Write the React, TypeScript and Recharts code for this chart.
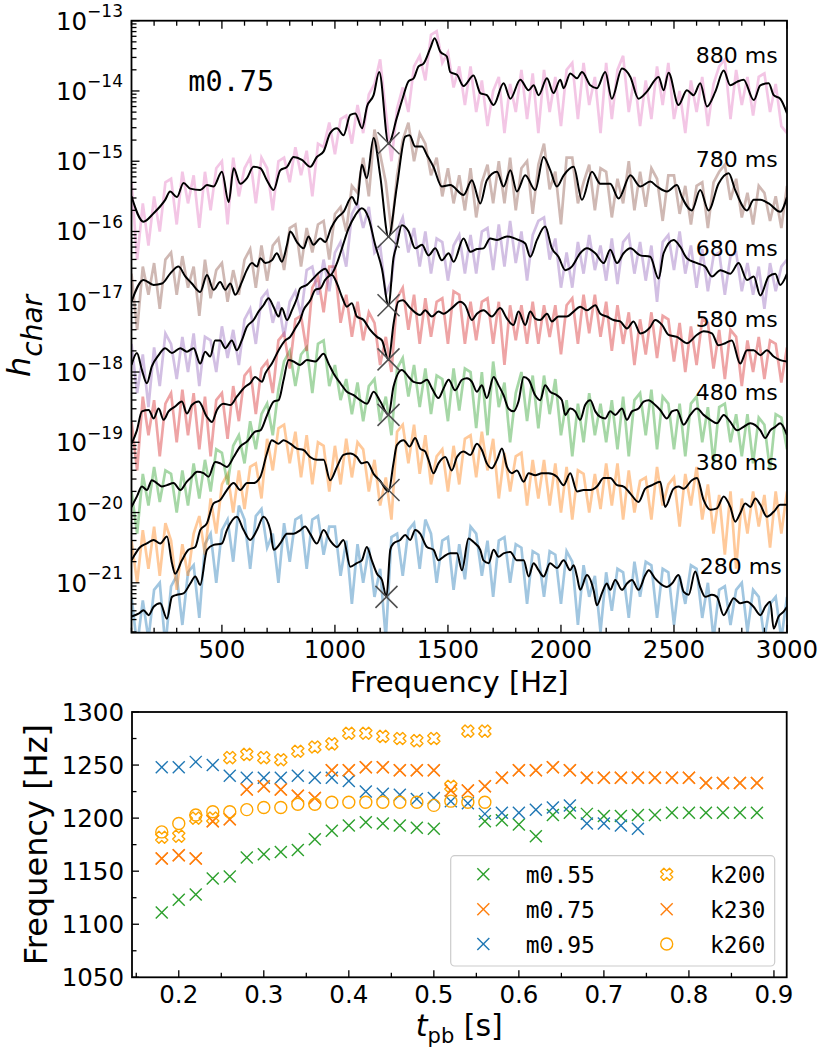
import React from 'react';
import { ComposedChart, Line, Scatter, XAxis, YAxis } from 'recharts';

// ---------------- TOP PANEL DATA (log10 of h_char) ----------------
const GRID = [
  100, 125, 150, 175, 200, 225, 250, 275, 300, 325, 350, 375,
  400, 425, 450, 475, 500, 525, 550, 575, 600, 625, 650, 675,
  700, 725, 750, 775, 800, 825, 850, 875, 900, 925, 950, 975,
  1000, 1025, 1050, 1075, 1100, 1125, 1150, 1175, 1200, 1225, 1250, 1275,
  1300, 1325, 1350, 1375, 1400, 1425, 1450, 1475, 1500, 1525, 1550, 1575,
  1600, 1625, 1650, 1675, 1700, 1725, 1750, 1775, 1800, 1825, 1850, 1875,
  1900, 1925, 1950, 1975, 2000, 2025, 2050, 2075, 2100, 2125, 2150, 2175,
  2200, 2225, 2250, 2275, 2300, 2325, 2350, 2375, 2400, 2425, 2450, 2475,
  2500, 2525, 2550, 2575, 2600, 2625, 2650, 2675, 2700, 2725, 2750, 2775,
  2800, 2825, 2850, 2875, 2900, 2925, 2950, 2975,
  3000,
];

const RAW_880 = [
  -15.3, -16.4, -15.6, -16.2, -15.5, -16.0, -15.3, -15.25, -15.9, -15.15, -15.6, -15.2,
  -15.95, -15.15, -15.7, -15.1, -15.0, -15.9, -14.95, -15.5, -15.1, -14.95, -15.6, -14.95,
  -15.1, -15.7, -15.0, -14.95, -15.3, -14.8, -15.2, -14.85, -15.5, -14.75, -14.8, -14.45,
  -14.9, -14.4, -14.35, -14.75, -14.2, -14.6, -14.05, -13.9, -13.55, -14.3, -15.0, -14.25,
  -13.95, -14.3, -13.65, -13.5, -13.85, -13.2, -13.15, -13.6, -13.45, -13.95, -13.65, -14.2,
  -13.65, -14.3, -13.85, -14.5, -14.0, -13.8, -14.6, -13.9, -14.3, -13.7, -14.4, -13.75,
  -14.6, -13.7, -14.3, -13.8, -14.5, -13.7, -13.6, -14.4, -13.6, -14.2, -13.8, -14.6,
  -13.6, -14.4, -13.7, -13.5, -14.3, -13.8, -14.5, -13.85, -14.4, -13.65, -14.2, -13.6,
  -14.4, -14.0, -14.6, -13.85, -14.3, -13.8, -14.5, -13.9, -13.65, -13.55, -14.4, -13.7,
  -14.2, -13.8, -14.35, -13.8, -13.75, -14.3, -13.9, -14.5,
  -14.6,
];
const RAW_780 = [
  -16.6, -17.4, -16.5, -16.9, -16.45, -17.1, -16.4, -16.3, -16.9, -16.35, -16.8, -16.5,
  -17.2, -16.4, -16.95, -16.55, -16.45, -17.0, -16.55, -16.9, -16.4, -16.25, -16.8, -16.2,
  -16.7, -16.2, -16.1, -16.55, -15.95, -15.9, -16.5, -15.95, -16.3, -15.9, -15.85, -16.4,
  -15.75, -15.65, -16.0, -15.35, -15.45, -14.95, -15.5, -14.55, -14.9, -15.3, -16.0, -15.2,
  -14.7, -14.45, -15.0, -14.6, -14.75, -15.2, -14.95, -15.5, -15.1, -15.6, -15.2, -15.7,
  -15.1, -15.8, -15.3, -15.05, -15.6, -15.0, -15.6, -14.95, -15.7, -15.1, -15.0, -15.75,
  -15.05, -14.75, -15.4, -15.15, -15.9, -14.95, -14.95, -15.6, -15.3, -15.05, -15.7, -15.1,
  -15.15, -15.8, -15.25, -15.6, -15.0, -15.7, -15.15, -15.65, -15.1, -15.25, -15.85, -15.2,
  -15.2, -15.75, -15.35, -15.9, -15.35, -15.3, -15.95, -15.3, -15.15, -15.05, -15.55, -15.25,
  -15.8, -15.45, -15.9, -15.35, -15.45, -15.85, -15.5, -15.95,
  -15.35,
];
const RAW_680 = [
  -17.6, -18.3, -17.75, -18.5, -17.65, -18.2, -17.45, -17.6, -18.1, -17.5, -18.0, -17.45,
  -18.2, -17.5, -17.55, -18.0, -17.35, -17.8, -17.4, -17.9, -17.25, -17.1, -17.6, -16.95,
  -16.85, -17.3, -17.0, -17.5, -17.0, -16.85, -17.2, -16.55, -16.5, -16.9, -16.4, -16.85,
  -16.3, -16.15, -16.5, -15.75, -15.6, -15.95, -15.65, -16.3, -16.2, -16.9, -16.7, -16.0,
  -15.8, -16.3, -15.95, -16.5, -16.0, -16.6, -16.1, -16.15, -16.7, -16.2, -16.05, -16.6,
  -16.05, -16.6, -16.0, -15.95, -16.55, -15.9, -16.5, -15.85, -16.45, -16.0, -16.7, -16.05,
  -15.85, -15.8, -16.4, -16.1, -16.8, -16.3, -16.8, -16.15, -16.6, -16.05, -16.55, -16.2,
  -16.7, -16.1, -16.75, -16.15, -16.05, -16.6, -16.15, -16.7, -16.2, -17.0, -16.15, -16.05,
  -16.55, -16.0, -16.6, -16.2, -16.8, -16.25, -16.85, -16.35, -16.3, -16.9, -16.35, -16.3,
  -16.85, -16.45, -16.9, -16.5, -17.1, -16.45, -16.85, -16.5,
  -16.4,
];
const RAW_580 = [
  -18.7, -19.4, -18.35, -18.9, -18.4, -19.2, -18.45, -18.3, -19.0, -18.25, -18.9, -18.3,
  -19.1, -18.35, -19.2, -18.4, -18.3, -18.95, -18.2, -18.7, -18.05, -17.95, -18.6, -17.95,
  -17.85, -18.3, -17.55, -17.45, -17.95, -17.25, -17.2, -17.7, -16.8, -16.65, -17.15, -16.5,
  -16.5, -17.3, -16.9, -17.5, -17.0, -17.55, -17.15, -17.3, -17.9, -17.5, -18.0, -16.95,
  -16.8, -17.4, -16.9, -17.6, -16.95, -17.5, -17.0, -16.95, -17.6, -16.85, -16.9, -17.6,
  -17.0, -17.55, -17.0, -16.95, -17.6, -17.0, -17.9, -17.05, -17.55, -17.05, -17.6, -17.0,
  -17.6, -17.05, -17.5, -17.05, -17.75, -17.05, -16.95, -17.6, -16.9, -17.45, -16.9, -17.5,
  -17.0, -17.7, -17.05, -17.6, -17.15, -17.9, -17.25, -17.75, -17.15, -17.8, -17.2, -17.25,
  -17.85, -17.3, -18.0, -17.35, -17.9, -17.25, -17.3, -17.95, -17.4, -18.1, -17.4, -17.5,
  -18.2, -17.55, -18.0, -17.5, -18.1, -17.55, -17.6, -18.15,
  -17.65,
];
const RAW_480 = [
  -19.7, -20.3, -19.45, -19.9, -19.35, -19.85, -19.4, -19.45, -20.0, -19.4, -19.9, -19.3,
  -19.8, -19.25, -19.7, -19.1, -19.15, -19.6, -19.05, -18.9, -19.3, -18.7, -19.1, -18.6,
  -18.45, -18.9, -18.25, -17.85, -17.7, -18.2, -17.75, -17.65, -18.3, -17.6, -17.55, -18.2,
  -17.9, -18.4, -18.1, -18.6, -18.15, -18.7, -18.2, -18.1, -18.7, -18.35, -18.9, -17.95,
  -17.8, -18.35, -17.9, -18.5, -17.95, -18.6, -18.05, -18.1, -18.7, -17.95, -18.55, -17.95,
  -18.0, -18.8, -18.0, -18.9, -17.85, -18.5, -18.15, -19.0, -18.3, -18.0, -18.7, -18.05,
  -18.8, -18.05, -18.6, -18.1, -18.9, -18.4, -19.2, -18.45, -19.0, -18.3, -18.9, -18.45,
  -19.0, -18.4, -19.1, -18.35, -19.2, -18.4, -18.3, -18.9, -18.25, -19.1, -18.35, -18.45,
  -19.1, -18.45, -19.2, -18.45, -18.35, -19.0, -18.5, -19.3, -18.5, -18.45, -19.0, -18.6,
  -19.2, -18.6, -19.3, -18.65, -18.75, -19.4, -18.6, -18.65,
  -19.1,
];
const RAW_380 = [
  -20.4, -21.0, -20.25, -20.8, -20.2, -20.9, -20.15, -20.4, -21.1, -20.45, -20.9, -20.3,
  -20.05, -20.6, -19.8, -20.3, -19.6, -19.45, -20.0, -19.4, -19.95, -19.35, -19.3, -19.8,
  -18.95, -19.4, -18.8, -18.75, -19.3, -18.85, -19.5, -18.9, -19.6, -19.0, -19.05, -19.7,
  -19.05, -19.6, -18.95, -19.5, -19.0, -19.1, -19.7, -19.25, -19.9, -19.5, -20.1, -18.85,
  -18.75, -19.3, -18.75, -19.45, -18.9, -19.6, -19.2, -19.1, -19.7, -19.05, -19.6, -18.95,
  -18.9, -19.5, -18.85, -19.4, -18.95, -19.8, -19.15, -19.7, -19.2, -19.15, -19.9, -19.25,
  -19.8, -19.25, -19.9, -19.3, -20.0, -19.35, -20.1, -19.4, -19.45, -20.0, -19.45, -19.95,
  -19.3, -19.9, -19.3, -20.1, -19.4, -20.0, -19.55, -19.5, -20.1, -19.35, -19.9, -19.6,
  -19.5, -20.2, -19.45, -19.9, -19.35, -20.1, -19.6, -20.3, -19.75, -20.6, -19.7, -20.8,
  -19.8, -20.3, -19.7, -20.2, -19.75, -20.5, -19.7, -20.3,
  -19.7,
];
const RAW_280 = [
  -21.2, -21.9, -21.25, -21.8, -21.1, -21.0, -21.9, -21.05, -20.9, -21.6, -20.85, -20.75,
  -21.5, -20.45, -20.3, -21.0, -20.25, -20.1, -20.7, -19.9, -20.1, -20.8, -20.05, -19.95,
  -20.5, -20.3, -21.0, -20.15, -20.7, -20.1, -20.05, -20.8, -20.1, -20.05, -20.6, -20.2,
  -20.2, -20.9, -20.4, -21.3, -20.45, -21.0, -20.5, -21.2, -20.8, -21.8, -20.35, -20.3,
  -20.9, -20.25, -20.15, -20.8, -20.1, -20.3, -21.0, -20.4, -20.35, -21.1, -20.45, -20.95,
  -20.2, -20.3, -20.9, -20.4, -21.2, -20.4, -20.35, -21.0, -20.45, -20.5, -21.3, -20.55,
  -20.6, -21.2, -20.55, -20.6, -21.3, -20.55, -20.7, -21.6, -20.75, -21.2, -20.9, -21.7,
  -20.85, -21.4, -20.8, -20.85, -21.5, -20.7, -21.2, -20.7, -20.75, -21.5, -20.8, -20.85,
  -21.6, -20.9, -21.3, -20.75, -20.8, -21.5, -21.0, -21.8, -21.1, -21.05, -21.6, -21.1,
  -21.0, -21.7, -21.1, -21.2, -21.8, -21.3, -21.2, -21.8,
  -21.2,
];

// smoothed spectra: [frequency Hz, log10 h_char]
const SMOOTH_880 = [
  [100, -15.5], [153, -15.86], [198, -15.74], [249, -15.55], [271, -15.43], [301, -15.51], [330, -15.31], [360, -15.39],
  [404, -15.41], [434, -15.34], [463, -15.36], [500, -15.15], [530, -15.58], [552, -15.1], [581, -15.32], [611, -15.24],
  [640, -15.08], [670, -15.1], [699, -15.27], [729, -15.41], [758, -15.13], [788, -15.08], [817, -14.94], [854, -14.98],
  [891, -15.08], [920, -14.94], [950, -14.86], [979, -14.6], [1009, -14.53], [1038, -14.63], [1068, -14.34], [1090, -14.32],
  [1120, -14.53], [1142, -14.22], [1171, -14.06], [1196, -13.73], [1237, -14.75], [1274, -14.38], [1300, -14.1], [1326, -13.86],
  [1348, -13.82], [1370, -13.65], [1392, -13.61], [1422, -13.39], [1441, -13.25], [1466, -13.44], [1495, -13.51], [1510, -13.73],
  [1540, -13.77], [1569, -13.93], [1613, -13.78], [1643, -14.03], [1672, -14.06], [1702, -14.2], [1746, -13.89], [1776, -14.11],
  [1820, -13.84], [1857, -13.99], [1879, -13.92], [1901, -14.06], [1938, -13.82], [1967, -14.03], [1997, -13.84], [2012, -13.96],
  [2041, -13.75], [2071, -13.82], [2093, -13.73], [2130, -13.92], [2159, -13.96], [2196, -13.73], [2225, -14.11], [2270, -13.68],
  [2307, -13.8], [2343, -14.11], [2380, -14.01], [2432, -13.8], [2454, -13.99], [2476, -13.74], [2520, -14.2], [2557, -13.99],
  [2587, -14.06], [2616, -13.89], [2646, -14.22], [2683, -14.01], [2720, -13.71], [2749, -13.92], [2779, -13.87], [2808, -13.84],
  [2853, -14.13], [2882, -13.92], [2919, -13.89], [2941, -14.06], [2970, -14.11], [3000, -14.32],
];
const SMOOTH_780 = [
  [100, -17.0], [153, -16.69], [198, -16.76], [235, -16.74], [271, -16.6], [308, -16.5], [338, -16.64], [367, -16.74],
  [404, -16.86], [434, -16.62], [463, -16.83], [492, -16.72], [515, -16.83], [537, -16.74], [559, -16.9], [588, -16.72],
  [610, -16.55], [633, -16.45], [655, -16.5], [670, -16.38], [692, -16.45], [721, -16.41], [743, -16.31], [765, -16.43],
  [788, -16.19], [802, -16.0], [832, -16.15], [861, -16.24], [883, -16.07], [905, -16.19], [935, -16.1], [957, -16.15],
  [983, -15.95], [1009, -15.81], [1038, -15.72], [1075, -15.51], [1097, -15.62], [1119, -15.05], [1141, -15.24], [1171, -14.67],
  [1200, -15.2], [1237, -16.08], [1274, -15.36], [1311, -14.65], [1330, -14.63], [1355, -14.79], [1385, -14.79], [1407, -14.91],
  [1436, -15.08], [1473, -15.36], [1510, -15.34], [1569, -15.48], [1606, -15.27], [1643, -15.6], [1672, -15.27], [1717, -15.15],
  [1746, -15.36], [1776, -15.13], [1805, -15.43], [1842, -15.2], [1886, -15.41], [1923, -14.94], [1953, -15.13], [1982, -15.36],
  [2012, -15.2], [2056, -15.08], [2093, -15.55], [2137, -15.15], [2174, -15.32], [2218, -15.32], [2255, -15.53], [2307, -15.2],
  [2351, -15.36], [2395, -15.29], [2425, -15.36], [2469, -15.43], [2513, -15.34], [2535, -15.51], [2579, -15.7], [2616, -15.41],
  [2653, -15.7], [2697, -15.32], [2742, -15.17], [2771, -15.41], [2823, -15.7], [2853, -15.55], [2882, -15.55], [2919, -15.6],
  [2970, -15.72], [3000, -15.51],
];
const SMOOTH_680 = [
  [100, -17.9], [124, -17.73], [146, -17.97], [168, -18.16], [190, -17.92], [220, -17.76], [249, -17.66], [279, -17.73],
  [316, -17.66], [345, -17.71], [375, -17.66], [404, -17.88], [426, -17.71], [448, -17.78], [470, -17.55], [492, -17.55],
  [515, -17.66], [544, -17.55], [566, -17.69], [588, -17.55], [610, -17.36], [640, -17.26], [662, -17.14], [684, -17.05],
  [706, -16.95], [728, -17.07], [751, -17.21], [765, -17.09], [788, -17.26], [810, -17.12], [832, -16.95], [846, -16.81],
  [876, -16.76], [898, -16.69], [935, -16.57], [957, -16.53], [979, -16.62], [1009, -16.45], [1031, -16.24], [1060, -15.96],
  [1090, -15.77], [1119, -15.67], [1149, -15.81], [1178, -16.19], [1208, -16.53], [1237, -17.05], [1259, -16.38], [1274, -16.19],
  [1296, -15.91], [1326, -16.0], [1355, -16.24], [1385, -16.19], [1414, -16.34], [1444, -16.24], [1473, -16.41], [1503, -16.31],
  [1525, -16.43], [1569, -16.1], [1599, -16.29], [1628, -16.25], [1657, -16.24], [1687, -16.1], [1717, -16.12], [1761, -16.07],
  [1812, -16.12], [1842, -16.17], [1864, -16.36], [1894, -16.12], [1930, -15.93], [1960, -16.24], [1989, -16.36], [2019, -16.55],
  [2048, -16.5], [2085, -16.31], [2115, -16.24], [2152, -16.31], [2189, -16.45], [2218, -16.26], [2248, -16.45], [2277, -16.31],
  [2307, -16.24], [2351, -16.34], [2395, -16.36], [2432, -16.67], [2454, -16.31], [2498, -16.12], [2528, -16.22], [2557, -16.38],
  [2602, -16.45], [2638, -16.5], [2668, -16.64], [2705, -16.55], [2749, -16.6], [2786, -16.45], [2823, -16.69], [2853, -16.64],
  [2882, -16.91], [2919, -16.64], [2948, -16.6], [2970, -16.76], [3000, -16.6],
];
const SMOOTH_580 = [
  [100, -19.02], [124, -18.83], [146, -18.56], [176, -18.54], [198, -18.66], [220, -18.52], [242, -18.68], [264, -18.56],
  [293, -18.49], [323, -18.42], [345, -18.59], [367, -18.47], [397, -18.42], [434, -18.64], [456, -18.71], [478, -18.54],
  [507, -18.45], [537, -18.47], [566, -18.35], [603, -18.21], [625, -18.16], [647, -18.07], [677, -18.14], [692, -18.02],
  [721, -17.88], [751, -17.69], [780, -17.55], [802, -17.5], [824, -17.38], [846, -17.26], [861, -17.12], [891, -16.98],
  [913, -16.83], [935, -16.81], [957, -16.69], [987, -16.62], [1009, -16.74], [1031, -16.93], [1053, -17.07], [1075, -17.02],
  [1097, -17.21], [1127, -17.26], [1156, -17.4], [1186, -17.5], [1208, -17.55], [1237, -17.83], [1260, -17.3], [1280, -17.0],
  [1300, -16.98], [1333, -17.09], [1377, -17.19], [1399, -17.12], [1429, -17.21], [1458, -17.14], [1481, -17.17], [1517, -17.09],
  [1554, -17.0], [1576, -17.05], [1606, -17.26], [1628, -17.17], [1658, -17.12], [1694, -17.21], [1731, -17.09], [1761, -17.24],
  [1790, -17.33], [1812, -17.14], [1842, -17.33], [1864, -17.14], [1886, -17.24], [1908, -17.26], [1938, -17.17], [1960, -17.28],
  [1989, -17.21], [2026, -17.21], [2056, -17.14], [2085, -17.07], [2115, -17.12], [2152, -17.05], [2174, -17.17], [2203, -17.21],
  [2233, -17.26], [2262, -17.28], [2292, -17.38], [2321, -17.28], [2351, -17.45], [2395, -17.36], [2417, -17.26], [2447, -17.33],
  [2476, -17.47], [2513, -17.5], [2557, -17.59], [2602, -17.47], [2631, -17.42], [2668, -17.45], [2697, -17.62], [2727, -17.59],
  [2756, -17.55], [2793, -17.88], [2823, -17.69], [2852, -17.69], [2882, -17.76], [2911, -17.69], [2941, -17.78], [2970, -17.83],
  [3000, -17.85],
];
const SMOOTH_480 = [
  [100, -19.92], [124, -19.77], [146, -19.63], [168, -19.68], [190, -19.54], [212, -19.58], [234, -19.63], [257, -19.61],
  [286, -19.58], [316, -19.68], [345, -19.56], [367, -19.49], [390, -19.42], [419, -19.44], [441, -19.49], [470, -19.28],
  [493, -19.3], [522, -19.35], [552, -19.21], [581, -19.06], [611, -18.99], [647, -18.85], [670, -18.83], [699, -18.62],
  [729, -18.42], [751, -18.4], [773, -18.11], [795, -17.83], [817, -17.85], [846, -17.9], [876, -17.83], [913, -17.85],
  [950, -17.74], [972, -17.88], [994, -18.02], [1024, -18.16], [1053, -18.28], [1083, -18.33], [1112, -18.4], [1142, -18.45],
  [1171, -18.28], [1201, -18.42], [1237, -18.61], [1259, -18.21], [1296, -17.97], [1326, -18.07], [1348, -18.14], [1377, -18.16],
  [1407, -18.11], [1429, -18.23], [1458, -18.37], [1481, -18.23], [1503, -18.11], [1532, -18.26], [1562, -18.11], [1584, -18.09],
  [1606, -18.14], [1628, -18.28], [1650, -18.19], [1672, -18.37], [1702, -18.07], [1724, -18.19], [1746, -18.33], [1768, -18.52],
  [1790, -18.56], [1812, -18.42], [1835, -18.07], [1857, -18.11], [1886, -18.33], [1908, -18.4], [1930, -18.19], [1952, -18.28],
  [1982, -18.33], [2004, -18.4], [2019, -18.61], [2041, -18.52], [2063, -18.56], [2085, -18.68], [2107, -18.47], [2130, -18.4],
  [2152, -18.56], [2174, -18.64], [2196, -18.66], [2218, -18.56], [2240, -18.61], [2270, -18.52], [2292, -18.68], [2314, -18.56],
  [2343, -18.52], [2366, -18.42], [2388, -18.4], [2417, -18.47], [2439, -18.54], [2469, -18.66], [2491, -18.56], [2513, -18.54],
  [2543, -18.75], [2572, -18.61], [2602, -18.52], [2631, -18.61], [2661, -18.68], [2690, -18.73], [2720, -18.61], [2749, -18.71],
  [2779, -18.83], [2808, -18.78], [2838, -18.73], [2882, -18.83], [2904, -18.94], [2926, -18.83], [2948, -18.78], [2970, -18.73],
  [3000, -18.9],
];
const SMOOTH_380 = [
  [100, -20.68], [139, -20.49], [168, -20.44], [198, -20.39], [227, -20.44], [257, -20.34], [279, -20.72], [293, -20.87],
  [323, -20.68], [352, -20.53], [382, -20.49], [404, -20.25], [434, -20.15], [463, -19.87], [493, -19.82], [522, -19.68],
  [552, -19.58], [581, -19.68], [611, -19.58], [640, -19.58], [670, -19.49], [699, -19.16], [721, -18.97], [751, -19.02],
  [773, -18.97], [802, -19.02], [832, -19.09], [861, -19.11], [890, -19.21], [920, -19.25], [950, -19.25], [979, -19.54],
  [1009, -19.35], [1038, -19.18], [1068, -19.16], [1097, -19.21], [1119, -19.3], [1142, -19.28], [1171, -19.45], [1200, -19.55],
  [1237, -19.7], [1259, -19.3], [1274, -19.04], [1304, -18.97], [1330, -19.06], [1355, -18.94], [1377, -19.09], [1399, -19.13],
  [1414, -19.25], [1436, -19.44], [1458, -19.3], [1488, -19.21], [1517, -19.4], [1540, -19.21], [1569, -19.13], [1599, -19.18],
  [1628, -19.02], [1650, -19.11], [1672, -19.3], [1694, -19.37], [1717, -19.25], [1739, -19.09], [1761, -19.35], [1783, -19.44],
  [1805, -19.4], [1835, -19.56], [1857, -19.44], [1886, -19.47], [1916, -19.44], [1945, -19.44], [1982, -19.49], [2012, -19.61],
  [2041, -19.44], [2071, -19.7], [2100, -19.68], [2130, -19.68], [2159, -19.63], [2189, -19.51], [2218, -19.51], [2248, -19.61],
  [2277, -19.63], [2307, -19.73], [2343, -19.85], [2373, -19.66], [2403, -19.61], [2439, -19.56], [2461, -19.92], [2498, -19.66],
  [2520, -19.63], [2543, -19.66], [2579, -19.54], [2602, -19.51], [2631, -19.82], [2661, -19.96], [2690, -19.94], [2720, -19.77],
  [2749, -19.92], [2771, -20.13], [2793, -20.01], [2815, -19.87], [2838, -19.92], [2860, -19.8], [2882, -19.89], [2911, -20.06],
  [2941, -19.99], [2970, -19.89], [3000, -19.89],
];
const SMOOTH_280 = [
  [100, -21.48], [131, -21.44], [153, -21.39], [176, -21.46], [198, -21.34], [227, -21.29], [257, -21.51], [279, -21.2],
  [301, -21.17], [330, -21.15], [360, -21.01], [382, -20.91], [404, -21.03], [434, -20.53], [463, -20.46], [500, -20.44],
  [522, -20.25], [566, -20.06], [596, -20.25], [625, -20.39], [655, -20.25], [684, -20.06], [714, -20.25], [729, -20.53],
  [758, -20.44], [788, -20.3], [817, -20.3], [847, -20.25], [868, -20.2], [890, -20.3], [920, -20.44], [950, -20.25],
  [979, -20.4], [1009, -20.49], [1038, -20.39], [1068, -20.77], [1097, -20.72], [1119, -20.68], [1141, -20.49], [1163, -20.68],
  [1186, -20.87], [1208, -20.96], [1228, -21.2], [1245, -20.53], [1259, -20.44], [1289, -20.39], [1311, -20.32], [1333, -20.39],
  [1355, -20.25], [1377, -20.3], [1407, -20.49], [1436, -20.53], [1458, -20.68], [1480, -20.63], [1510, -20.58], [1540, -20.58],
  [1562, -20.82], [1591, -20.37], [1613, -20.42], [1643, -20.53], [1657, -20.68], [1680, -20.72], [1702, -20.53], [1724, -20.63],
  [1746, -20.58], [1776, -20.56], [1805, -20.68], [1835, -20.68], [1857, -20.91], [1879, -20.72], [1901, -20.82], [1923, -20.91],
  [1952, -20.72], [1982, -20.79], [2012, -20.68], [2041, -20.82], [2056, -20.75], [2071, -20.91], [2085, -21.1], [2115, -20.89],
  [2144, -21.1], [2159, -21.32], [2181, -21.15], [2203, -21.01], [2218, -21.1], [2240, -20.96], [2270, -21.1], [2292, -21.01],
  [2314, -20.96], [2343, -21.1], [2373, -20.89], [2388, -20.82], [2417, -20.94], [2439, -21.01], [2469, -21.06], [2491, -21.01],
  [2520, -20.89], [2543, -21.13], [2565, -21.17], [2594, -20.84], [2616, -21.06], [2638, -21.2], [2668, -21.17], [2690, -21.2],
  [2720, -21.46], [2742, -21.34], [2764, -21.22], [2793, -21.29], [2823, -21.27], [2852, -21.34], [2882, -21.46], [2904, -21.34],
  [2926, -21.27], [2941, -21.65], [2963, -21.48], [2985, -21.41], [3000, -21.34],
];

// notch markers (frequency Hz, log10 h_char) for 280 ... 880 ms
const NOTCH = [[1228, -21.2], [1237, -19.68], [1237, -18.61], [1237, -17.82], [1237, -17.05], [1237, -16.075], [1237, -14.745]];
const TIME_LABELS = ['280 ms', '380 ms', '480 ms', '580 ms', '680 ms', '780 ms', '880 ms'];
const RAWS = [RAW_280, RAW_380, RAW_480, RAW_580, RAW_680, RAW_780, RAW_880];
const SMOOTHS = [SMOOTH_280, SMOOTH_380, SMOOTH_480, SMOOTH_580, SMOOTH_680, SMOOTH_780, SMOOTH_880];

// ---------------- BOTTOM PANEL DATA ----------------
const T_PB = [0.18, 0.2, 0.22, 0.24, 0.26, 0.28, 0.3, 0.32, 0.34, 0.36, 0.38, 0.4, 0.42, 0.44, 0.46, 0.48, 0.5, 0.52,
  0.54, 0.56, 0.58, 0.6, 0.62, 0.64, 0.66, 0.68, 0.7, 0.72, 0.74, 0.76, 0.78, 0.8, 0.82, 0.84, 0.86, 0.88];
const M055 = [1111, 1123, 1128, 1143, 1145, 1163, 1166, 1168, 1170, 1180, 1188, 1193, 1196, 1195, 1193, 1191, 1190, null,
  null, 1197, 1198, 1194, 1183, 1203, 1205, 1204, 1202, 1202, 1203, 1203, 1205, 1205, 1205, 1205, 1205, 1205];
const M075 = [1162, 1165, 1162, 1197, 1199, 1227, 1230, 1227, 1221, 1219, 1245, 1245, 1248, 1248, 1245, 1245, 1245, 1226,
  1226, 1230, 1238, 1245, 1245, 1248, 1245, 1238, 1238, 1238, 1238, 1238, 1238, 1238, 1233, 1233, 1233, 1233];
const M095 = [1248, 1248, 1253, 1250, 1240, 1238, 1238, 1238, 1240, 1238, 1238, 1235, 1225, 1223, 1222, 1218, 1219, 1216,
  1214, 1204, 1205, 1205, 1208, 1210, 1212, 1195, 1195, 1193, 1190, null, null, null, null, null, null, null];
const K200 = [1182, 1183, 1200, 1200, 1257, 1260, 1257, 1255, 1263, 1267, 1270, 1280, 1280, 1277, 1275, 1273, 1275, 1230,
  1282, 1282];
const K230 = M075;
const K260 = [1187, 1195, 1203, 1206, 1206, 1208, 1210, 1210, 1213, 1213, 1215, 1215, 1215, 1215, 1215, 1215, 1212, 1216,
  1215, 1215];

// ---------------- layout ----------------
const FONT = '"DejaVu Sans", Verdana, sans-serif';
const MONO = '"DejaVu Sans Mono", monospace';
const P1 = { left: 131.5, right: 787, top: 20.7, bottom: 632.7 };
const CH2_TOP = 690;
const P2 = { left: 132, right: 786.7, top: 22, bottom: 287.3 };
const SPEC_COLORS = ['#1f77b4', '#ff7f0e', '#2ca02c', '#d62728', '#9467bd', '#8c564b', '#e377c2'];
const LABEL_POS = [[781.7, 574], [777.7, 470], [777.7, 400], [777.7, 327], [777.7, 256], [777.7, 167.3], [777.7, 63.3]];

const Y1_MIN = Math.pow(10, -21.71);
const Y1_MAX = 1e-13;
const Y1_TICKS: number[] = [];
for (let n = -22; n <= -14; n++) {
  for (let k = 1; k <= 9; k++) {
    const v = k * Math.pow(10, n);
    if (v >= Y1_MIN && v <= Y1_MAX * 1.0001) Y1_TICKS.push(v);
  }
}
Y1_TICKS.push(Y1_MAX);
const X1_TICKS = Array.from({ length: 30 }, (_, i) => 100 * (i + 1));
const X2_TICKS = Array.from({ length: 16 }, (_, i) => Math.round((0.15 + 0.05 * i) * 100) / 100);
const Y2_TICKS = Array.from({ length: 11 }, (_, i) => 1050 + 25 * i);

const toPow = (e: number) => Math.pow(10, e);
const SPECTRA = TIME_LABELS.map((label, i) => ({
  label,
  color: SPEC_COLORS[i],
  raw: GRID.map((f, j) => ({ f, v: toPow(RAWS[i][j]) })).filter((d) => Number.isFinite(d.v)),
  smooth: SMOOTHS[i].map(([f, e]) => ({ f, v: toPow(e) })),
  notch: [{ f: NOTCH[i][0], v: toPow(NOTCH[i][1]) }],
}));

const pts = (vals: (number | null)[]) =>
  vals.map((f, i) => ({ t: T_PB[i], f })).filter((d) => d.f !== null && d.f !== undefined);

// ---------------- markers ----------------
const XCross = ({ cx, cy, color, r = 6, w = 1.4 }: any) => (
  <g>
    <line x1={cx - r} y1={cy - r} x2={cx + r} y2={cy + r} stroke={color} strokeWidth={w} />
    <line x1={cx - r} y1={cy + r} x2={cx + r} y2={cy - r} stroke={color} strokeWidth={w} />
  </g>
);
const FatX = ({ cx, cy, color }: any) => {
  const h = 6.3, w = 2.3;
  const base = [[-w, -h], [w, -h], [w, -w], [h, -w], [h, w], [w, w], [w, h], [-w, h], [-w, w], [-h, w], [-h, -w], [-w, -w]];
  const s = Math.SQRT1_2;
  const p = base.map(([x, y]) => `${cx + (x - y) * s},${cy + (x + y) * s}`).join(' ');
  return <polygon points={p} fill="none" stroke={color} strokeWidth={1.4} strokeLinejoin="round" />;
};
const Ring = ({ cx, cy, color }: any) => <circle cx={cx} cy={cy} r={6} fill="none" stroke={color} strokeWidth={1.4} />;

const BOTTOM_SERIES = [
  { name: 'm0.55', data: pts(M055), color: '#2ca02c', Shape: XCross },
  { name: 'm0.75', data: pts(M075), color: '#ff7f0e', Shape: XCross },
  { name: 'm0.95', data: pts(M095), color: '#1f77b4', Shape: XCross },
  { name: 'k200', data: pts(K200), color: '#ffa500', Shape: FatX },
  { name: 'k230', data: pts(K230), color: '#ff7f0e', Shape: XCross },
  { name: 'k260', data: pts(K260), color: '#ffa500', Shape: Ring },
];

// ---------------- ticks ----------------
const topXTick = (p: any) => {
  const v = p.payload.value;
  const x = p.x;
  const major = v % 500 === 0;
  const len = major ? 8 : 5;
  return (
    <g>
      <line x1={x} x2={x} y1={P1.bottom} y2={P1.bottom - len} stroke="#000" strokeWidth={1.3} />
      <line x1={x} x2={x} y1={P1.top} y2={P1.top + len} stroke="#000" strokeWidth={1.3} />
      {major && (
        <text x={x} y={658.3} textAnchor="middle" fontFamily={FONT} fontSize={24.5} fill="#000">{v}</text>
      )}
    </g>
  );
};
const topYTick = (p: any) => {
  const v = p.payload.value;
  const y = p.y;
  const lg = Math.log10(v);
  const n = Math.round(lg);
  const major = Math.abs(lg - n) < 1e-6;
  const len = major ? 8 : 5;
  return (
    <g>
      <line x1={P1.left} x2={P1.left + len} y1={y} y2={y} stroke="#000" strokeWidth={1.3} />
      {major && (
        <text x={P1.left - 8.5} y={y + 8.9} textAnchor="end" fontFamily={FONT} fontSize={24.5} fill="#000">
          10<tspan fontSize={17} dy={-12.4}>{'\u2212' + Math.abs(n)}</tspan>
        </text>
      )}
    </g>
  );
};
const botXTick = (p: any) => {
  const v = p.payload.value;
  const x = p.x;
  const major = Math.round(v * 100) % 10 === 0;
  const len = major ? 7 : 4.5;
  return (
    <g>
      <line x1={x} x2={x} y1={P2.bottom} y2={P2.bottom - len} stroke="#000" strokeWidth={1.3} />
      {major && (
        <text x={x} y={313.3} textAnchor="middle" fontFamily={FONT} fontSize={24.5} fill="#000">{v.toFixed(1)}</text>
      )}
    </g>
  );
};
const botYTick = (p: any) => {
  const v = p.payload.value;
  const y = p.y;
  const major = v % 50 === 0;
  const len = major ? 7 : 4.5;
  return (
    <g>
      <line x1={P2.left} x2={P2.left + len} y1={y} y2={y} stroke="#000" strokeWidth={1.3} />
      {major && (
        <text x={124} y={y + 8.9} textAnchor="end" fontFamily={FONT} fontSize={24.5} fill="#000">{v}</text>
      )}
    </g>
  );
};

// ---------------- legend ----------------
const LEGEND_ROWS = [874.3, 909.3, 944];
const Legend2 = () => (
  <g>
    <rect x={450.7} y={855.7} width={324} height={110.3} rx={4} fill="#fff" fillOpacity={0.8} stroke="#cccccc" strokeWidth={1.2} />
    {BOTTOM_SERIES.map((s, i) => {
      const col = i < 3 ? 0 : 1;
      const row = i % 3;
      const mx = col === 0 ? 483.3 : 666.7;
      const tx = col === 0 ? 525.7 : 710;
      const cy = LEGEND_ROWS[row];
      const Shape = s.Shape;
      return (
        <g key={s.name}>
          <Shape cx={mx} cy={cy} color={s.color} />
          <text x={tx} y={cy + 9} fontFamily={MONO} fontSize={23} fill="#000">{s.name}</text>
        </g>
      );
    })}
  </g>
);

export default function App() {
  const rawElems = SPECTRA.map((s, i) => (
    <Line key={'raw' + i} data={s.raw} dataKey="v" type="linear" stroke={s.color} strokeOpacity={0.42}
      strokeWidth={2.7} strokeLinejoin="miter" dot={false} activeDot={false} isAnimationActive={false} />
  ));
  const smoothElems = SPECTRA.map((s, i) => (
    <Line key={'sm' + i} data={s.smooth} dataKey="v" type="monotone" stroke="#000" strokeWidth={2}
      dot={false} activeDot={false} isAnimationActive={false} />
  ));
  const notchData = SPECTRA.map((s) => s.notch[0]);

  return (
    <div style={{ position: 'absolute', left: 0, top: 0, width: 831, height: 1059, background: '#fff', overflow: 'hidden' }}>
      <div style={{ position: 'absolute', left: 0, top: 0 }}>
        <ComposedChart width={831} height={690} margin={{ top: P1.top, right: 831 - P1.right, bottom: 0, left: 0 }}>
          <XAxis xAxisId={0} type="number" dataKey="f" domain={[100, 3000]} ticks={X1_TICKS} interval={0}
            height={690 - P1.bottom} axisLine={false} tickLine={false} tick={topXTick} allowDataOverflow />
          <YAxis yAxisId={0} type="number" dataKey="v" scale="log" domain={[Y1_MIN, Y1_MAX]} ticks={Y1_TICKS} interval={0}
            width={P1.left} axisLine={false} tickLine={false} tick={topYTick} allowDataOverflow />
          {rawElems}
          {smoothElems}
          <Scatter data={notchData} dataKey="v" isAnimationActive={false}
            shape={(p: any) => <XCross cx={p.cx} cy={p.cy} color="#4d4d4d" r={11} w={1.5} />} />
        </ComposedChart>
      </div>
      <div style={{ position: 'absolute', left: 0, top: CH2_TOP }}>
        <ComposedChart width={831} height={369} margin={{ top: P2.top, right: 831 - P2.right, bottom: 0, left: 0 }}>
          <XAxis type="number" dataKey="t" domain={[0.145, 0.915]} ticks={X2_TICKS} interval={0}
            height={369 - P2.bottom} axisLine={false} tickLine={false} tick={botXTick} allowDataOverflow />
          <YAxis type="number" dataKey="f" domain={[1050, 1300]} ticks={Y2_TICKS} interval={0}
            width={P2.left} axisLine={false} tickLine={false} tick={botYTick} allowDataOverflow />
          {BOTTOM_SERIES.map((s) => (
            <Scatter key={s.name} data={s.data} dataKey="f" isAnimationActive={false}
              shape={(p: any) => <s.Shape cx={p.cx} cy={p.cy} color={s.color} />} />
          ))}
        </ComposedChart>
      </div>
      <svg width={831} height={1059} style={{ position: 'absolute', left: 0, top: 0, pointerEvents: 'none' }}>
        {/* frames */}
        <rect x={P1.left} y={P1.top} width={P1.right - P1.left} height={P1.bottom - P1.top} fill="none" stroke="#000" strokeWidth={1.8} />
        <rect x={P2.left} y={CH2_TOP + P2.top} width={P2.right - P2.left} height={P2.bottom - P2.top} fill="none" stroke="#000" strokeWidth={1.8} />
        {/* top panel texts */}
        <text x={188.3} y={90.7} fontFamily={MONO} fontSize={28.5} fill="#000">m0.75</text>
        {TIME_LABELS.map((t, i) => (
          <text key={t} x={LABEL_POS[i][0]} y={LABEL_POS[i][1]} textAnchor="end" fontFamily={FONT} fontSize={22} fill="#000">{t}</text>
        ))}
        <text x={459.25} y={691.7} textAnchor="middle" fontFamily={FONT} fontSize={29} fill="#000">Frequency [Hz]</text>
        <g transform="translate(30, 377) rotate(-90)">
          <text x={0} y={0} fontFamily={FONT} fontStyle="italic" fontSize={32} fill="#000">
            h<tspan fontSize={28} dy={12}>char</tspan>
          </text>
        </g>
        {/* bottom panel texts */}
        <g transform="translate(46.5, 844.7) rotate(-90)">
          <text x={0} y={0} textAnchor="middle" fontFamily={FONT} fontSize={32} fill="#000">Frequency [Hz]</text>
        </g>
        <text x={459.3} y={1036} textAnchor="middle" fontFamily={FONT} fontSize={30} fill="#000">
          <tspan fontStyle="italic">t</tspan>
          <tspan fontSize={21} dy={7}>pb</tspan>
          <tspan dy={-7}>{' [s]'}</tspan>
        </text>
        <Legend2 />
      </svg>
    </div>
  );
}
